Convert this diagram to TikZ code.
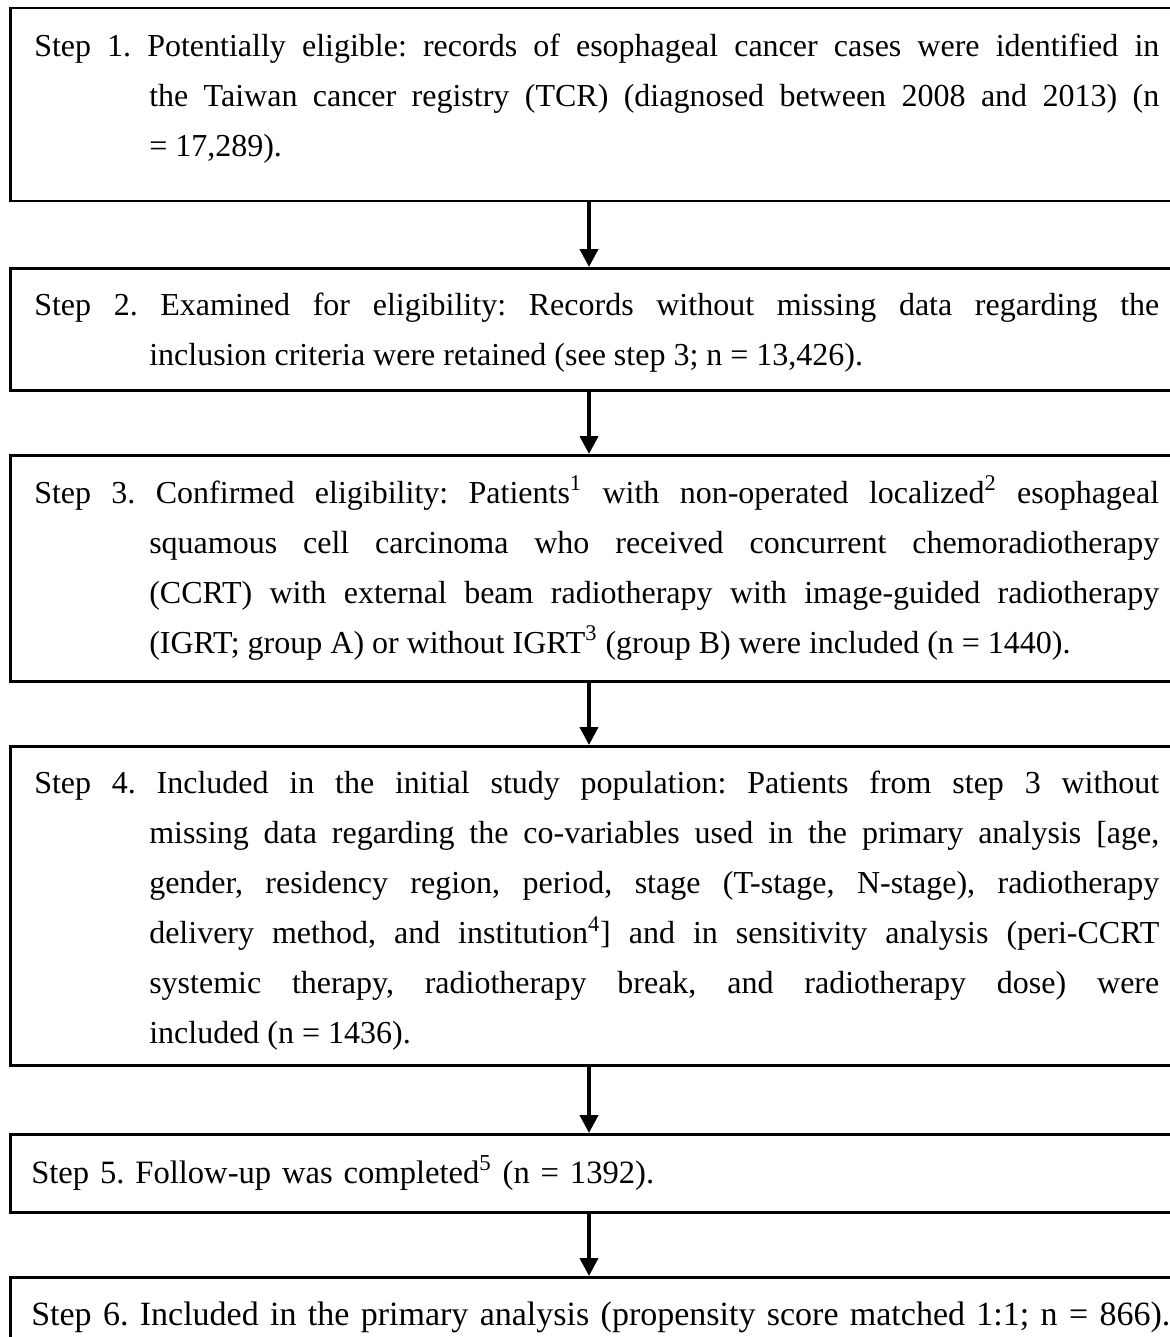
\documentclass[tikz,border=0pt]{standalone}
\usepackage{fontspec}
\setmainfont{Liberation Serif}
\usetikzlibrary{arrows.meta}
\hyphenpenalty=10000
\frenchspacing

\begin{document}
\begin{tikzpicture}[
    x=0.5pt, y=-0.5pt,
    stepbox/.style={rectangle, draw, line width=1.25pt, anchor=north west, inner xsep=12pt, inner ysep=0pt, text width=562.5pt, align=justify, font=\fontsize{16}{25}\selectfont},
    arrow/.style={-{Triangle[width=9pt,length=9pt]}, line width=2pt}
]

\useasboundingbox (0,0) rectangle (1170,1337);
\clip (0,0) rectangle (1170,1337);

% Step 1
\node[stepbox, minimum height=96.5pt] (s1) at (9,7) {\hangindent=57.5pt\hangafter=1 Step 1. Potentially eligible: records of esophageal cancer cases were identified in \linebreak the Taiwan cancer registry (TCR) (diagnosed between 2008 and 2013) (n \linebreak = 17,289).\par\kern6pt};

% Step 2
\node[stepbox, minimum height=61pt] (s2) at (9,267) {\hangindent=57.5pt\hangafter=1 Step 2. Examined for eligibility: Records without missing data regarding the \linebreak inclusion criteria were retained (see step 3; n = 13,426).\par\kern-3pt};

% Step 3
\node[stepbox, minimum height=113pt] (s3) at (9,454) {\hangindent=57.5pt\hangafter=1 Step 3. Confirmed eligibility: Patients\textsuperscript{1} with non-operated localized\textsuperscript{2} esophageal \linebreak squamous cell carcinoma who received concurrent chemoradiotherapy \linebreak (CCRT) with external beam radiotherapy with image-guided radiotherapy \linebreak (IGRT; group A) or without IGRT\textsuperscript{3} (group B) were included (n = 1440).\par};

% Step 4
\node[stepbox, minimum height=159.5pt] (s4) at (9,745) {\hangindent=57.5pt\hangafter=1 Step 4. Included in the initial study population: Patients from step 3 without \linebreak missing data regarding the co-variables used in the primary analysis [age, \linebreak gender, residency region, period, stage (T-stage, N-stage), radiotherapy \linebreak delivery method, and institution\textsuperscript{4}] and in sensitivity analysis (peri-CCRT \linebreak systemic therapy, radiotherapy break, and radiotherapy dose) were \linebreak included (n = 1436).\par\kern-5pt};

% Step 5
\node[stepbox, minimum height=39pt, inner xsep=10.5pt, align=left, font=\fontsize{16.3}{25}\selectfont] (s5) at (9,1133) {Step 5. Follow-up was completed\textsuperscript{5} (n = 1392).};

% Step 6
\node[stepbox, minimum height=40pt, inner xsep=10.5pt, text width=580pt, align=left, font=\fontsize{17}{25}\selectfont] (s6) at (9,1276) {Step 6. Included in the primary analysis (propensity score matched 1:1; n = 866).};

% Arrows
\coordinate (axis) at (589,0);
\draw[arrow] (s1.south -| axis) -- (s2.north -| axis);
\draw[arrow] (s2.south -| axis) -- (s3.north -| axis);
\draw[arrow] (s3.south -| axis) -- (s4.north -| axis);
\draw[arrow] (s4.south -| axis) -- (s5.north -| axis);
\draw[arrow] (s5.south -| axis) -- (s6.north -| axis);

\end{tikzpicture}
\end{document}
